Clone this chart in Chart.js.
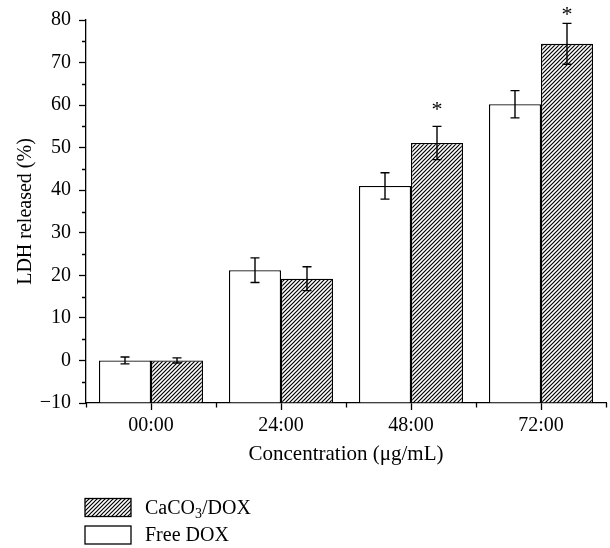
<!DOCTYPE html>
<html>
<head>
<meta charset="utf-8">
<script src="https://cdn.jsdelivr.net/npm/chart.js@4/dist/chart.umd.min.js"></script>
<style>
  html, body { margin: 0; padding: 0; background: #fff; }
  #wrap { width: 610px; height: 548px; position: relative; }
</style>
</head>
<body>
<div id="wrap"><canvas id="chart"></canvas></div>
<script>
const categories = ["00:00", "24:00", "48:00", "72:00"];
const freeDox = [0, 21.2, 41.0, 60.2];
const freeDoxErr = [0.8, 2.9, 3.1, 3.2];
const caco3Dox = [0, 19.2, 51.1, 74.4];
const caco3DoxErr = [0.6, 2.8, 3.9, 4.8];
// where the significance asterisks sit, in axis units
const caco3Star = [null, null, 58.6, 80.9];
const yMin = -10;
const yMax = 80;
const yMajor = 10;
const yMinor = 5;

const SERIF = "'Liberation Serif', 'Times New Roman', serif";
const INK = "#000";

function hatchPattern(ctx) {
  const s = 4;
  const tile = document.createElement("canvas");
  tile.width = s;
  tile.height = s;
  const g = tile.getContext("2d");
  g.fillStyle = "#fff";
  g.fillRect(0, 0, s, s);
  g.strokeStyle = INK;
  g.lineWidth = 1.2;
  g.beginPath();
  g.moveTo(-1, s + 1); g.lineTo(s + 1, -1);
  g.moveTo(-1, 1); g.lineTo(1, -1);
  g.moveTo(s - 1, s + 1); g.lineTo(s + 1, s - 1);
  g.stroke();
  return ctx.createPattern(tile, "repeat");
}

// draws text, turning unicode subscript digits into small lowered digits
function drawRichText(ctx, text, x, y, size) {
  const subs = "₀₁₂₃₄₅₆₇₈₉";
  let cx = x;
  for (const ch of text) {
    const k = subs.indexOf(ch);
    if (k >= 0) {
      ctx.font = `${Math.round(size * 0.7)}px ${SERIF}`;
      ctx.fillText(String(k), cx, y + size * 0.28);
      cx += ctx.measureText(String(k)).width;
    } else {
      ctx.font = `${size}px ${SERIF}`;
      ctx.fillText(ch, cx, y);
      cx += ctx.measureText(ch).width;
    }
  }
}

const errorBarPlugin = {
  id: "errorBars",
  afterDatasetsDraw(chart) {
    const { ctx } = chart;
    const yScale = chart.scales.y;
    ctx.save();
    ctx.strokeStyle = INK;
    ctx.lineWidth = 1.4;
    chart.data.datasets.forEach((ds, di) => {
      const meta = chart.getDatasetMeta(di);
      meta.data.forEach((bar, i) => {
        const v = ds.data[i];
        const e = ds.errors ? ds.errors[i] : 0;
        const yt = yScale.getPixelForValue(v + e);
        const yb = yScale.getPixelForValue(v - e);
        const cap = 4.5;
        ctx.beginPath();
        ctx.moveTo(bar.x, yt); ctx.lineTo(bar.x, yb);
        ctx.moveTo(bar.x - cap, yt); ctx.lineTo(bar.x + cap, yt);
        ctx.moveTo(bar.x - cap, yb); ctx.lineTo(bar.x + cap, yb);
        ctx.stroke();
        if (ds.stars && ds.stars[i] != null) {
          ctx.fillStyle = INK;
          ctx.font = `22px ${SERIF}`;
          ctx.textAlign = "center";
          ctx.textBaseline = "middle";
          ctx.fillText("*", bar.x, yScale.getPixelForValue(ds.stars[i]) - 1);
        }
      });
    });
    ctx.restore();
  },
};

const minorTickPlugin = {
  id: "minorTicks",
  afterDraw(chart) {
    const { ctx } = chart;
    const { x: xs, y: ys } = chart.scales;
    ctx.save();
    ctx.strokeStyle = INK;
    ctx.lineWidth = 1.3;
    ctx.beginPath();
    for (let v = yMin; v <= yMax; v += yMinor) {
      if (v % yMajor === 0) continue;
      const py = Math.round(ys.getPixelForValue(v)) + 0.5;
      ctx.moveTo(ys.right, py);
      ctx.lineTo(ys.right - 4, py);
    }
    const step = (xs.right - xs.left) / categories.length;
    for (let i = 0; i <= categories.length; i++) {
      const px = Math.round(xs.left + i * step) + 0.5;
      ctx.moveTo(px, xs.top);
      ctx.lineTo(px, xs.top + 4.5);
    }
    ctx.stroke();
    ctx.restore();
  },
};

const sideLegendPlugin = {
  id: "stackedLegend",
  afterDraw(chart) {
    const { ctx } = chart;
    const left = chart.chartArea.left - 1;
    let top = chart.scales.x.bottom + 31;
    const boxW = 46;
    const boxH = 18;
    const rowH = 27.5;
    ctx.save();
    const items = chart.data.datasets.slice().reverse();
    for (const ds of items) {
      ctx.fillStyle = ds.backgroundColor;
      ctx.fillRect(left, top, boxW, boxH);
      ctx.strokeStyle = INK;
      ctx.lineWidth = 1.3;
      ctx.strokeRect(left, top, boxW, boxH);
      ctx.fillStyle = INK;
      ctx.textAlign = "left";
      ctx.textBaseline = "middle";
      drawRichText(ctx, ds.label, left + 60, top + boxH / 2 + 1, 20);
      top += rowH;
    }
    ctx.restore();
  },
};

const canvas = document.getElementById("chart");
const ctx2d = canvas.getContext("2d");

new Chart(ctx2d, {
  type: "bar",
  data: {
    labels: categories,
    datasets: [
      {
        label: "Free DOX",
        data: freeDox,
        errors: freeDoxErr,
        base: yMin,
        backgroundColor: "#fff",
        borderColor: INK,
        borderWidth: 1.3,
      },
      {
        label: "CaCO₃/DOX",
        data: caco3Dox,
        errors: caco3DoxErr,
        stars: caco3Star,
        base: yMin,
        backgroundColor: hatchPattern(ctx2d),
        borderColor: INK,
        borderWidth: 1.3,
      },
    ],
  },
  options: {
    animation: false,
    responsive: true,
    maintainAspectRatio: false,
    devicePixelRatio: 1,
    datasets: {
      bar: { categoryPercentage: 0.8, barPercentage: 1.0 },
    },
    layout: { padding: { top: 14, right: 4, bottom: 80.5, left: 0 } },
    plugins: {
      legend: { display: false },
      tooltip: { enabled: false },
    },
    scales: {
      x: {
        offset: true,
        afterFit(scale) { scale.height = 64.5; },
        border: { color: INK, width: 1.3 },
        grid: {
          offset: false,
          drawOnChartArea: false,
          drawTicks: true,
          tickLength: 7,
          tickWidth: 1.3,
          tickColor: INK,
        },
        ticks: {
          color: INK,
          padding: 4,
          font: { family: SERIF, size: 20 },
        },
        title: {
          display: true,
          text: "Concentration (μg/mL)",
          color: INK,
          font: { family: SERIF, size: 21 },
          padding: { top: 0, bottom: 0 },
        },
      },
      y: {
        min: yMin,
        max: yMax,
        afterFit(scale) { scale.width = 86; },
        border: { color: INK, width: 1.3 },
        grid: {
          drawOnChartArea: false,
          drawTicks: true,
          tickLength: 7,
          tickWidth: 1.3,
          tickColor: (c) => (c.tick && c.tick.value % yMajor === 0 ? INK : "rgba(0,0,0,0)"),
        },
        ticks: {
          stepSize: yMinor,
          autoSkip: false,
          padding: 8,
          color: INK,
          font: { family: SERIF, size: 20 },
          callback: (v) => (v % yMajor === 0 ? (v < 0 ? "\u2212" + Math.abs(v) : String(v)) : ""),
        },
        title: {
          display: true,
          text: "LDH released (%)",
          color: INK,
          font: { family: SERIF, size: 20 },
          padding: { top: 14, bottom: 0 },
        },
      },
    },
  },
  plugins: [errorBarPlugin, minorTickPlugin, sideLegendPlugin],
});
</script>
</body>
</html>
